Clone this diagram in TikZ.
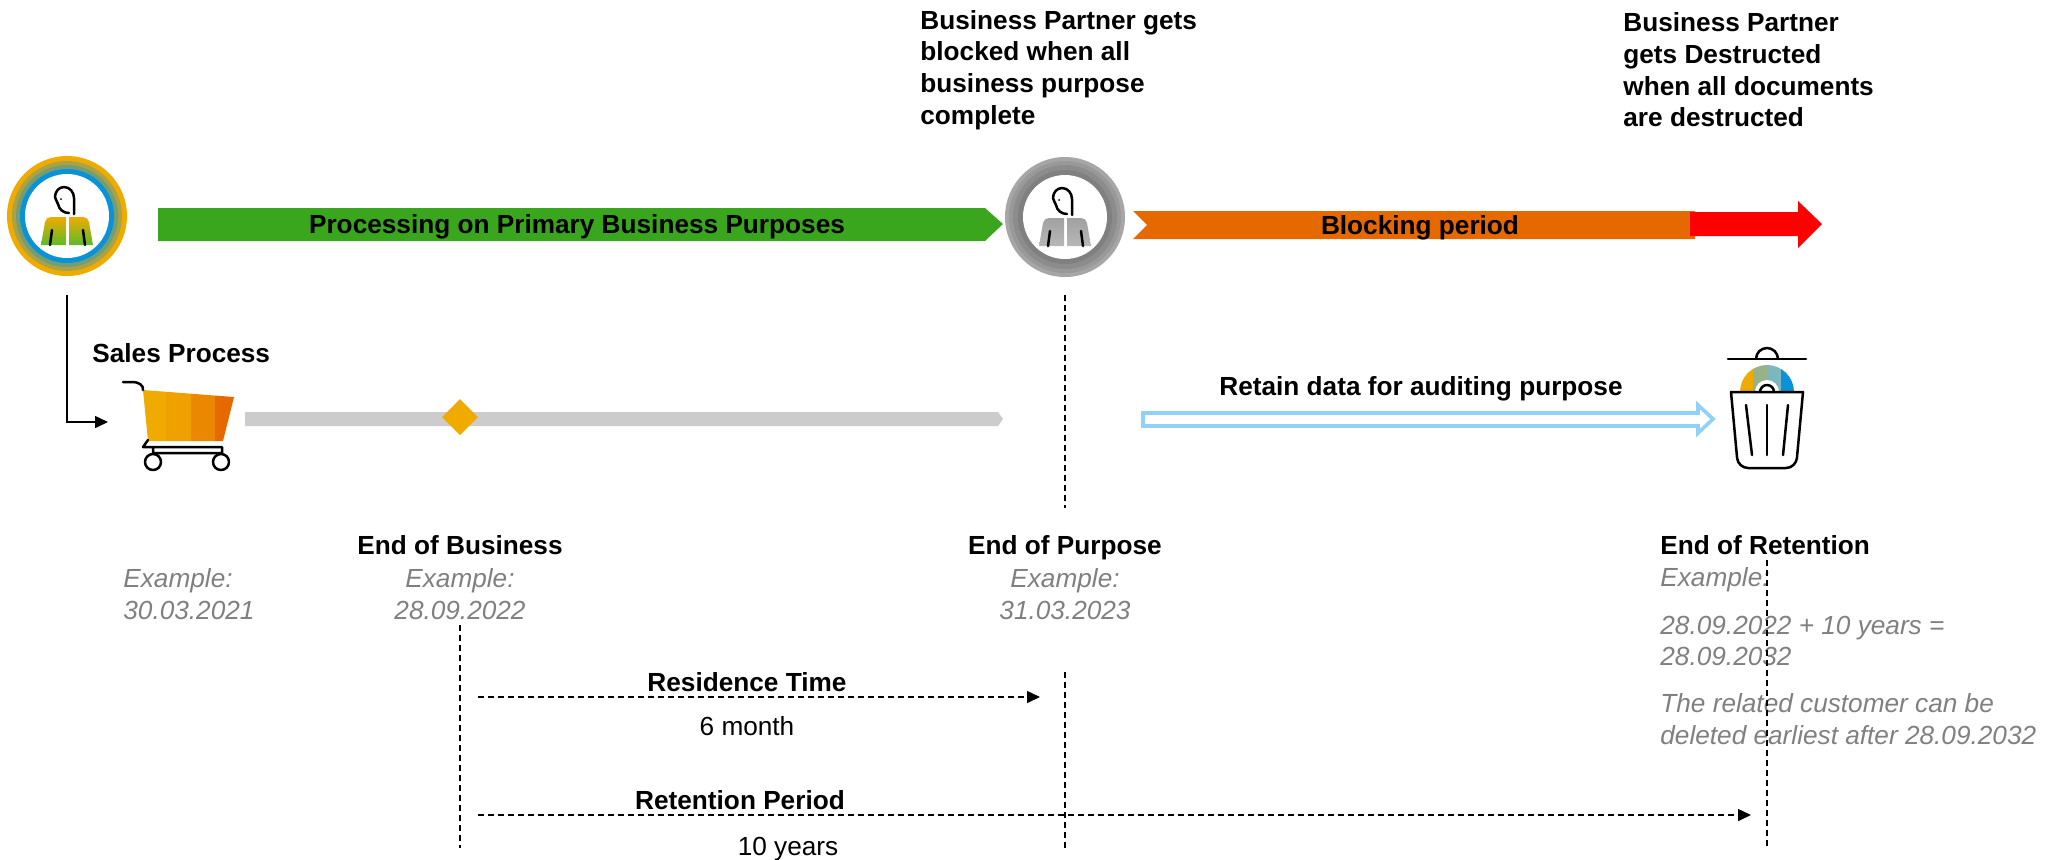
\documentclass[tikz,border=0pt]{standalone}
\usepackage{fontspec}
\setmainfont{Liberation Sans}
\usetikzlibrary{positioning}
\usetikzlibrary{arrows.meta}
\definecolor{sapgreen}{HTML}{3AA61E}
\definecolor{saporange}{HTML}{E66900}
\definecolor{sapgold}{HTML}{F0AB00}
\definecolor{sapblue}{HTML}{0A92D8}
\definecolor{sapleaf}{HTML}{5CBB2C}
\definecolor{barblue}{HTML}{8FD1F8}
\newcommand{\personbody}[3]{%
	\begin{scope}[shift={#1}]
		\shade [top color=#2, bottom color=#3] (-26,29) -- (-22,6) to[out=80,in=180] (-16,1) -- (-1,1) -- (-1,29) -- cycle;
		\shade [top color=#2, bottom color=#3] (26,29) -- (22,6) to[out=100,in=0] (16,1) -- (2,1) -- (2,29) -- cycle;
		\draw [icon] (-17,29) -- (-15,14);
		\draw [icon] (18,29) -- (16,14);
		\draw [icon] (7,-2) -- (7,-18) to[out=90,in=0] (-3,-29) to[out=180,in=90] (-12,-19) to[out=270,in=100] (-9,-12) to[out=280,in=180] (2,-3);
		\fill (-6,-17) circle (1);
	\end{scope}}
\begin{document}
\begin{tikzpicture}[x=0.5pt, y=-0.5pt,
		auto,
		caption/.style={inner sep=0, font=\fontsize{13.1}{15.8}\selectfont\bfseries},
		tag/.style={caption, text height=9.4pt, text depth=0pt},
		note/.style={inner sep=0, text=black!50, font=\fontsize{13.1}{15.8}\selectfont\itshape},
		plain/.style={inner sep=0, text height=9.4pt, text depth=0pt, font=\fontsize{13.1}{15.8}\selectfont},
		line/.style={draw, line width=0.75pt, -{Triangle[length=6.5pt,width=6pt]}},
		span/.style={line, dash pattern=on 3pt off 2pt},
		guide/.style={draw, line width=0.75pt, dash pattern=on 3pt off 2pt},
		icon/.style={draw, black, line width=1.25pt, line cap=round, line join=round}]
		\useasboundingbox (0,0) rectangle (2056,859);
		%% Persons
		\foreach \rr/\cc in {60/sapgold, 55/sapgold!70!sapblue, 51/sapgold!45!sapblue, 47/sapblue, 42/white}
			\fill [\cc] (67,216) circle (\rr);
		\personbody{(67,216)}{sapgold}{sapleaf}
		\foreach \rr/\cc in {60/black!35, 56/black!40, 52/black!45, 47/black!50, 42/white}
			\fill [\cc] (1065,217) circle (\rr);
		\personbody{(1065,217)}{black!37}{black!28}
		%% Bars
		\fill [sapgreen] (158,208) -- (985,208) -- (1003,224) -- (985,241) -- (158,241) -- cycle;
		\fill [saporange] (1133,211) -- (1695,211) -- (1695,239) -- (1133,239) -- (1147,225) -- cycle;
		\fill [red] (1690,212) -- (1798,212) -- (1798,201) -- (1822,224) -- (1798,248) -- (1798,236) -- (1690,236) -- cycle;
		\fill [black!20] (245,412) -- (998,412) -- (1003,419) -- (998,426) -- (245,426) -- cycle;
		\fill [sapgold] (460,399) -- (478,417) -- (460,435) -- (442,417) -- cycle;
		\draw [barblue, line width=1.8pt] (1143,413) -- (1698,413) -- (1698,405) -- (1713,419) -- (1698,433) -- (1698,426) -- (1143,426) -- cycle;
		%% Cart
		\begin{scope}
			\clip (143,390) -- (234,397) -- (223,441) -- (148,441) -- cycle;
			\fill [sapgold] (140,385) rectangle (166,445);
			\fill [sapgold!85!saporange] (166,385) rectangle (191,445);
			\fill [sapgold!45!saporange] (191,385) rectangle (215,445);
			\fill [saporange] (215,385) rectangle (236,445);
		\end{scope}
		\draw [icon] (123,382) -- (133,382) to[out=0,in=80] (143,390);
		\draw [icon] (148,440) -- (143,447) -- (222,447) -- (222,453) -- (153,453) -- (153,447);
		\draw [icon] (153,462) circle (8);
		\draw [icon] (221,462) circle (8);
		%% Bin
		\begin{scope}
			\clip (1767,392) circle (27);
			\fill [sapgold] (1735,360) rectangle (1753,392);
			\fill [sapgold!50!sapblue!80!white] (1753,360) rectangle (1767,392);
			\fill [sapgold!25!sapblue!70!white] (1767,360) rectangle (1781,392);
			\fill [sapblue] (1781,360) rectangle (1800,392);
		\end{scope}
		\fill [white] (1767,392) circle (12);
		\draw [icon] (1728,359) -- (1806,359);
		\draw [icon] (1756,359) arc (180:360:11);
		\draw [icon] (1760,392) arc (180:360:7);
		\draw [icon] (1731,392) -- (1803,392) [rounded corners=5pt] -- (1796,468) -- (1738,468) [sharp corners] -- cycle;
		\draw [icon] (1746,405) -- (1752,455);
		\draw [icon] (1767,405) -- (1767,455);
		\draw [icon] (1788,405) -- (1783,455);
		%% Labels
		\node [caption, align=left, anchor=west] (blocked) at (920,70) {Business Partner gets\\blocked when all\\business purpose\\complete};
		\node [caption, align=left, anchor=west] (destructed) at (1623,70) {Business Partner\\gets Destructed\\when all documents\\are destructed};
		\node [tag] (processing) at (577,224) [anchor=center] {Processing on Primary Business Purposes};
		\node [tag] (blocking) at (1420,225) [anchor=center] {Blocking period};
		\node [tag] (sales) at (92,353) [anchor=west] {Sales Process};
		\node [tag] (retain) at (1421,386) [anchor=center] {Retain data for auditing purpose};
		\node [tag] (endbusiness) at (460,545) [anchor=center] {End of Business};
		\node [tag] (endpurpose) at (1065,545) [anchor=center] {End of Purpose};
		\node [tag] (endretention) at (1660,545) [anchor=west] {End of Retention};
		\node [note, align=left, anchor=west] (exsales) at (123,594) {Example:\\30.03.2021};
		\node [note, align=center] (exbusiness) at (460,594) [anchor=center] {Example:\\28.09.2022};
		\node [note, align=center] (expurpose) at (1065,594) [anchor=center] {Example:\\31.03.2023};
		\node [note, text height=9.4pt, text depth=0pt] (exretention) at (1660,577) [anchor=west] {Example:};
		\node [note, align=left, anchor=west] (exsum) at (1660,641) {28.09.2022 + 10 years =\\28.09.2032};
		\node [note, align=left, anchor=west] (exrelated) at (1660,719) {The related customer can be\\deleted earliest after 28.09.2032};
		\node [tag] (residence) at (747,682) [anchor=center] {Residence Time};
		\node [plain] (sixmonth) at (747,726) [anchor=center] {6 month};
		\node [tag] (retention) at (740,800) [anchor=center] {Retention Period};
		\node [plain] (tenyears) at (788,846) [anchor=center] {10 years};
		%% Links
		\coordinate (usertop) at (67,295);
		\coordinate (userbend) at (67,422);
		\coordinate (carttip) at (108,422);
		\coordinate (purposetop) at (1065,295);
		\coordinate (purposemid) at (1065,508);
		\coordinate (purposelow) at (1065,672);
		\coordinate (purposeend) at (1065,848);
		\coordinate (businesstop) at (460,625);
		\coordinate (businessend) at (460,848);
		\coordinate (retentiontop) at (1767,560);
		\coordinate (retentionend) at (1767,847);
		\coordinate (residstart) at (478,697);
		\coordinate (residend) at (1040,697);
		\coordinate (retstart) at (478,815);
		\coordinate (retend) at (1751,815);
		\path [line] (usertop) -- (userbend) -- (carttip);
		\path [guide] (purposetop) to (purposemid);
		\path [guide] (purposelow) to (purposeend);
		\path [guide] (businesstop) to (businessend);
		\path [guide] (retentiontop) to (retentionend);
		\path [span] (residstart) to (residend);
		\path [span] (retstart) to (retend);
\end{tikzpicture}
\end{document}
